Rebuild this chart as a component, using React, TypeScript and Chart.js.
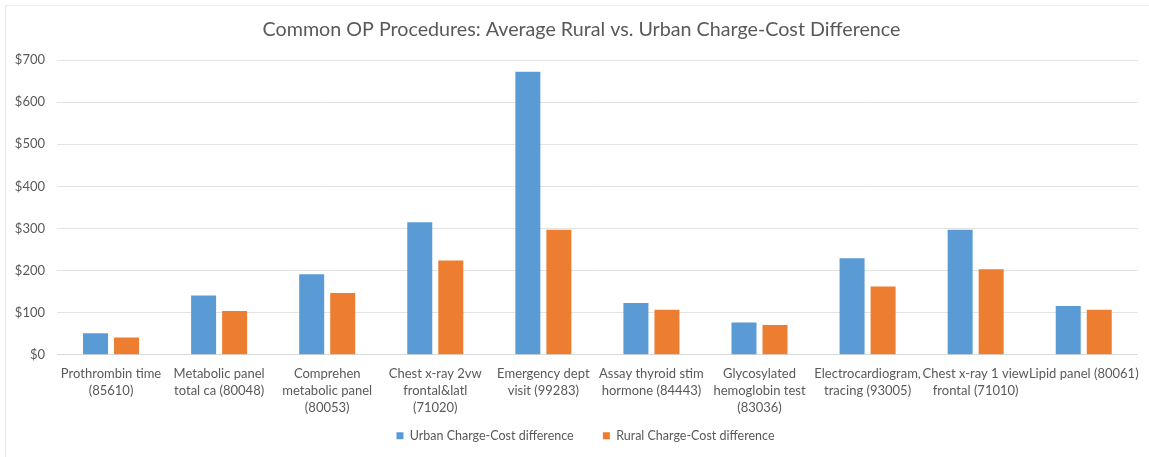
import React, { useEffect, useRef } from "react";
import { Chart, registerables } from "chart.js";

Chart.register(...registerables);

const titleText = "Common OP Procedures: Average Rural vs. Urban Charge-Cost Difference";

const categories: string[][] = [
  ["Prothrombin time", "(85610)"],
  ["Metabolic panel", "total ca (80048)"],
  ["Comprehen", "metabolic panel", "(80053)"],
  ["Chest x-ray 2vw", "frontal&latl", "(71020)"],
  ["Emergency dept", "visit (99283)"],
  ["Assay thyroid stim", "hormone (84443)"],
  ["Glycosylated", "hemoglobin test", "(83036)"],
  ["Electrocardiogram,", "tracing (93005)"],
  ["Chest x-ray 1 view", "frontal (71010)"],
  ["Lipid panel (80061)"],
];

const urbanValues = [51, 141, 191, 315, 672, 123, 77, 229, 297, 116];
const ruralValues = [41, 104, 147, 224, 297, 107, 71, 162, 203, 107];

const seriesNames = ["Urban Charge-Cost difference", "Rural Charge-Cost difference"];

const FONT = "Lato, 'Open Sans', sans-serif";
const GRAY = "#595959";

const shiftPlugin = {
  id: "shiftBoxes",
  afterLayout(chart: any) {
    const t = chart.titleBlock;
    if (t) {
      t.left += 11;
      t.right += 11;
    }
    const l = chart.legend;
    if (l) {
      l.left += 15;
      l.right += 15;
    }
  },
};

export default function App() {
  const ref = useRef<HTMLCanvasElement | null>(null);

  useEffect(() => {
    if (!ref.current) return;
    const chart = new Chart(ref.current, {
      type: "bar",
      data: {
        labels: categories,
        datasets: [
          {
            label: seriesNames[0],
            data: urbanValues,
            backgroundColor: "#5B9BD5",
            borderWidth: 0,
          },
          {
            label: seriesNames[1],
            data: ruralValues,
            backgroundColor: "#ED7D31",
            borderWidth: 0,
          },
        ],
      },
      plugins: [shiftPlugin],
      options: {
        responsive: false,
        animation: false,
        layout: { padding: { left: 0, right: 8, top: 0, bottom: 5 } },
        plugins: {
          title: {
            display: true,
            text: titleText,
            color: GRAY,
            font: { family: FONT, size: 19.7, weight: "normal" },
            padding: { top: 18, bottom: 18.4 },
          },
          legend: {
            position: "bottom",
            labels: {
              color: GRAY,
              font: { family: FONT, size: 12.5 },
              boxWidth: 7,
              boxHeight: 7,
              padding: 10,
              generateLabels: (c: any) => {
                const items = Chart.defaults.plugins.legend.labels.generateLabels(c);
                items.forEach((it: any, i: number) => {
                  if (i === 0) it.text = it.text + "      ";
                });
                return items;
              },
            },
          },
          tooltip: { enabled: false },
        },
        datasets: {
          bar: { categoryPercentage: 0.574, barPercentage: 0.806 },
        },
        scales: {
          x: {
            afterFit: (s: any) => {
              s.height = 64.7;
            },
            grid: { display: false, drawTicks: false },
            border: { display: true, color: "#d9d9d9" },
            ticks: {
              color: GRAY,
              font: { family: FONT, size: 13, lineHeight: 1.31 },
              padding: 10,
              maxRotation: 0,
              autoSkip: false,
            },
          },
          y: {
            min: 0,
            max: 700,
            afterFit: (s: any) => {
              s.width = 57;
            },
            grid: { color: "#e3e3e3", drawTicks: false },
            border: { display: false },
            ticks: {
              stepSize: 100,
              color: GRAY,
              padding: 12,
              font: { family: FONT, size: 13 },
              callback: (v: any) => "$" + v,
            },
          },
        },
      },
    });
    return () => chart.destroy();
  }, []);

  return (
    <div style={{ position: "absolute", left: 0, top: 0, width: 1149, height: 457, background: "#fff" }}>
      <div
        style={{
          position: "absolute",
          left: 5,
          top: 5,
          width: 1144,
          height: 452,
          borderLeft: "1px solid #e6e6e6",
          borderTop: "1px solid #efefef",
        }}
      />
      <canvas ref={ref} width={1149} height={457} style={{ position: "absolute", left: 0, top: 0 }} />
    </div>
  );
}
